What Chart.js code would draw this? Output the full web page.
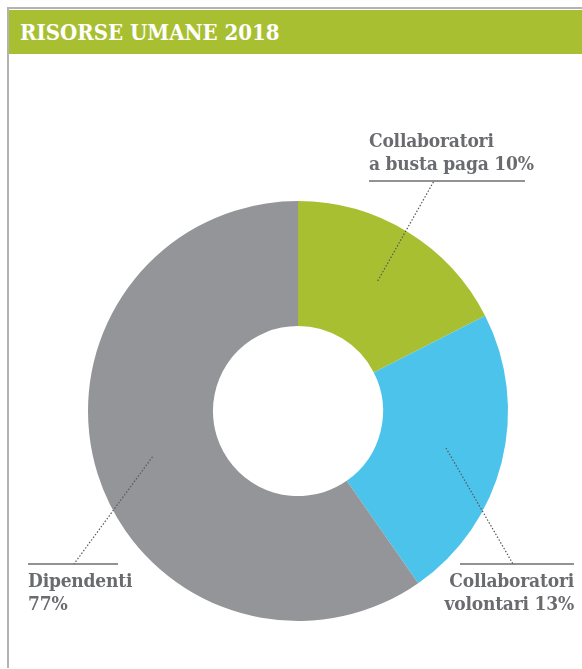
<!DOCTYPE html>
<html>
<head>
<meta charset="utf-8">
<script src="https://cdn.jsdelivr.net/npm/chart.js@4"></script>
<style>
  html, body { margin: 0; padding: 0; background: #fff; }
  #page { position: relative; width: 582px; height: 669px; overflow: hidden; }
  #chart { position: absolute; left: 0; top: 0; }
  .frame-top { position: absolute; left: 7px; top: 7px; width: 575px; height: 2px; background: #b3b3b3; }
  .frame-left { position: absolute; left: 7px; top: 7px; width: 2px; height: 661px; background: #b3b3b3; }
  .header {
    position: absolute; left: 9px; top: 10px; width: 573px; height: 44px;
    background: #a9bf32; color: #fff;
    font-family: "DejaVu Serif Condensed", "DejaVu Serif", serif; font-weight: bold;
    font-size: 22px; line-height: 45px; padding-left: 11px; box-sizing: border-box;
  }
  .lbl {
    position: absolute; color: #6a6b6e; white-space: nowrap;
    font-family: "DejaVu Serif Condensed", "DejaVu Serif", serif; font-weight: bold;
    font-size: 19px; line-height: 23px; letter-spacing: -0.2px;
  }
</style>
</head>
<body>
<div id="page">
  <canvas id="chart" width="582" height="669"></canvas>
  <div class="frame-top"></div>
  <div class="frame-left"></div>
  <div class="header" id="title"></div>
  <div class="lbl" id="lbl0" style="left:369px; top:129px;"></div>
  <div class="lbl" id="lbl1" style="right:8px; top:569px; text-align:right;"></div>
  <div class="lbl" id="lbl2" style="left:28px; top:569px;"></div>
</div>
<script>
// Dati
const title = 'RISORSE UMANE 2018';
const categories = ['Collaboratori a busta paga', 'Collaboratori volontari', 'Dipendenti'];
const labelLines = [
  ['Collaboratori', 'a busta paga 10%'],
  ['Collaboratori', 'volontari 13%'],
  ['Dipendenti', '77%']
];
// share of the ring as drawn in the picture
const sliceShare = [17.5, 22.8, 59.7];
const colors = ['#a9bf32', '#4cc3ea', '#939598'];

// underline under/over each label and where the leader meets it
const underlines = [
  { x1: 369, x2: 525, y: 181, ax: 434 },
  { x1: 460, x2: 574, y: 564, ax: 513 },
  { x1: 28, x2: 118, y: 564, ax: 74 }
];

document.getElementById('title').textContent = title;
labelLines.forEach((lines, i) => {
  const el = document.getElementById('lbl' + i);
  el.innerHTML = lines.join('<br>');
});

// leader lines + underlines
const leaderPlugin = {
  id: 'leaders',
  afterDatasetsDraw(chart) {
    const ctx = chart.ctx;
    const arcs = chart.getDatasetMeta(0).data;
    ctx.save();
    underlines.forEach((u, i) => {
      ctx.setLineDash([]);
      ctx.strokeStyle = '#6d6e71';
      ctx.lineWidth = 1.6;
      ctx.beginPath();
      ctx.moveTo(u.x1, u.y);
      ctx.lineTo(u.x2, u.y);
      ctx.stroke();

      // start a little outside the ring's middle
      const a = arcs[i];
      const mid = (a.startAngle + a.endAngle) / 2;
      const r = a.innerRadius + 0.54 * (a.outerRadius - a.innerRadius);
      ctx.setLineDash([1.5, 1.8]);
      ctx.lineWidth = 1.2;
      ctx.strokeStyle = '#58595b';
      ctx.beginPath();
      ctx.moveTo(a.x + Math.cos(mid) * r, a.y + Math.sin(mid) * r);
      ctx.lineTo(u.ax, u.y);
      ctx.stroke();
    });
    ctx.restore();
  }
};

new Chart(document.getElementById('chart'), {
  type: 'doughnut',
  data: {
    labels: categories,
    datasets: [{
      data: sliceShare,
      backgroundColor: colors,
      borderWidth: 0
    }]
  },
  options: {
    responsive: false,
    animation: false,
    cutout: '40.5%',
    layout: { padding: { left: 88, right: 74, top: 201, bottom: 48 } },
    plugins: {
      legend: { display: false },
      tooltip: { enabled: false }
    }
  },
  plugins: [leaderPlugin]
});
</script>
</body>
</html>
